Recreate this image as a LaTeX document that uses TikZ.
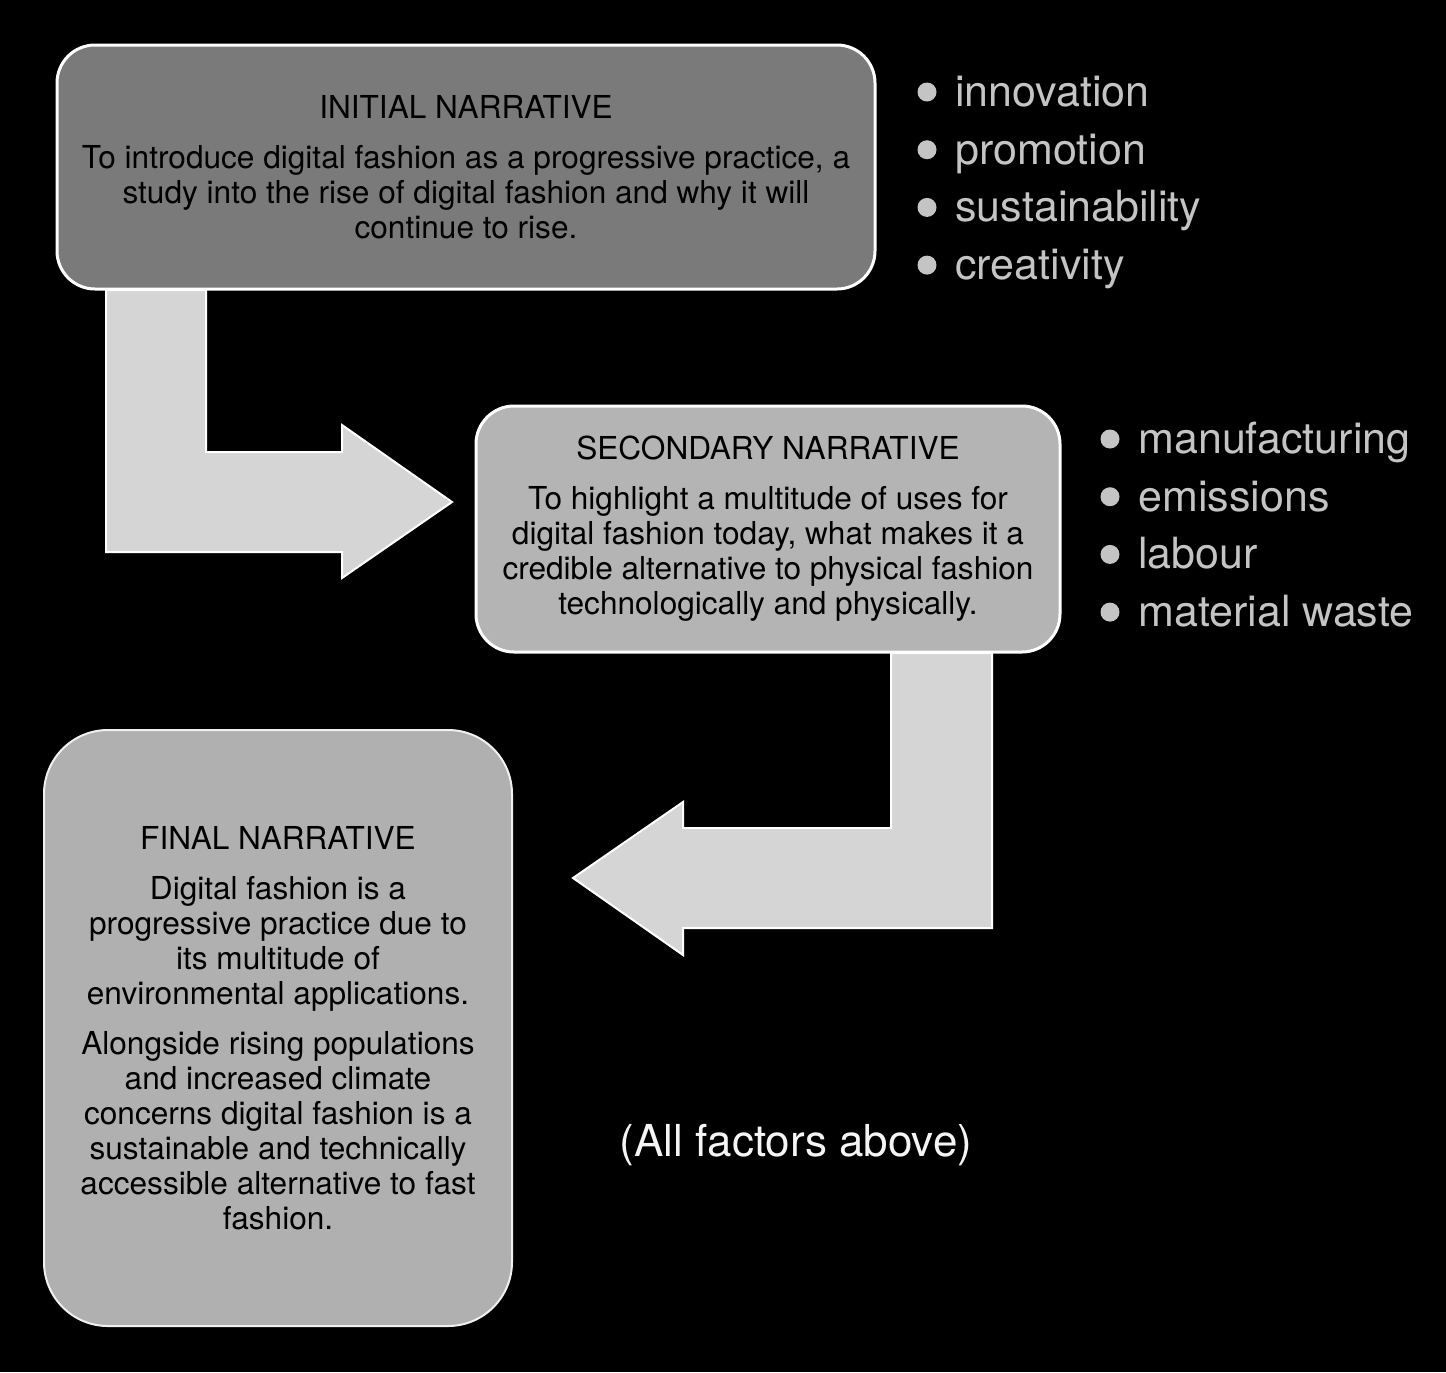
\documentclass[tikz,border=0pt]{standalone}
\usepackage{fontspec}
\setmainfont{TeX Gyre Heros}
\definecolor{initfill}{HTML}{7A7A7A}
\definecolor{secfill}{HTML}{B4B4B4}
\definecolor{finfill}{HTML}{B0B0B0}
\definecolor{bendfill}{HTML}{D5D5D5}
\definecolor{factorgray}{HTML}{C4C4C4}
\begin{document}
\begin{tikzpicture}[x=0.5pt, y=-0.5pt,
  narr/.style={draw=white, line width=1.5pt, rounded corners=19pt, align=center,
    text=black, font=\fontsize{15.8}{17.5}\selectfont},
  bentarrow/.style={fill=bendfill, draw=white, line width=1pt},
  factor/.style={anchor=west, text=factorgray, font=\fontsize{21.5}{26}\selectfont,
    text height=0.75em, text depth=0.2em, inner sep=0pt},
  bulletdot/.style={circle, fill=factorgray, inner sep=0pt, minimum size=9.5pt}]
\fill[black] (0,0) rectangle (1446,1372);
% bent arrows
\draw[bentarrow] (106,290)--(206,290)--(206,452)--(342,452)--(342,425)--(452,502)
  --(342,578)--(342,552)--(106,552)--cycle;
\draw[bentarrow] (891,653)--(992,653)--(992,928)--(683,928)--(683,955)--(573,878)
  --(683,802)--(683,828)--(891,828)--cycle;
% narratives
\node[narr, fill=initfill, minimum width=409pt, minimum height=122pt] (init) at (466,167)
  {INITIAL NARRATIVE\\[7.5pt]
   To introduce digital fashion as a progressive practice, a\\
   study into the rise of digital fashion and why it will\\
   continue to rise.};
\node[narr, fill=secfill, minimum width=292pt, minimum height=123pt] (sec) at (768,529)
  {SECONDARY NARRATIVE\\[7.5pt]
   To highlight a multitude of uses for\\
   digital fashion today, what makes it a\\
   credible alternative to physical fashion\\
   technologically and physically.};
\node[narr, fill=finfill, draw=white!88!gray, line width=1pt, rounded corners=32pt,
  minimum width=234pt, minimum height=298pt] (fin) at (278,1028)
  {FINAL NARRATIVE\\[7.5pt]
   Digital fashion is a\\
   progressive practice due to\\
   its multitude of\\
   environmental applications.\\[7.5pt]
   Alongside rising populations\\
   and increased climate\\
   concerns digital fashion is a\\
   sustainable and technically\\
   accessible alternative to fast\\
   fashion.};
% factors
\foreach \w [count=\i, evaluate=\i as \y using 101+57.7*(\i-1)] in
  {innovation,promotion,sustainability,creativity}{
  \node[bulletdot] (da\i) at (927,\y-9) {};
  \node[factor] (fa\i) at (955,\y) {\w};
}
\foreach \w [count=\i, evaluate=\i as \y using 448+57.7*(\i-1)] in
  {manufacturing,emissions,labour,material waste}{
  \node[bulletdot] (db\i) at (1110,\y-9) {};
  \node[factor] (fb\i) at (1138,\y) {\w};
}
\node[text=white!92!gray, font=\fontsize{22}{26}\selectfont] (all) at (796,1145)
  {(All factors above)};
\end{tikzpicture}
\end{document}
